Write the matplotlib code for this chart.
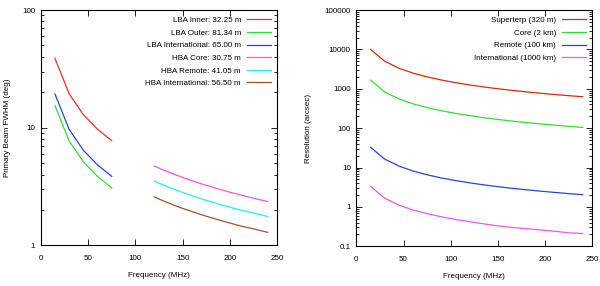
import matplotlib.pyplot as plt
from matplotlib.ticker import LogLocator, MultipleLocator, NullFormatter

plt.rcParams['font.family'] = ['Liberation Sans', 'DejaVu Sans']
plt.rcParams['font.size'] = 5.8

# left panel: primary beam FWHM (deg)
lba_freq = [15, 30, 45, 60, 75]
lba_inner = [38.8, 19.4, 12.9, 9.7, 7.76]
lba_outer = [15.4, 7.7, 5.13, 3.85, 3.08]
lba_intl = [19.3, 9.65, 6.43, 4.83, 3.86]

hba_freq = [120, 130, 140, 150, 160, 170, 180, 190, 200, 210, 220, 230, 240]
hba_core = [4.72, 4.36, 4.05, 3.78, 3.54, 3.33, 3.15, 2.98, 2.83, 2.70, 2.57, 2.46, 2.36]
hba_remote = [3.52, 3.25, 3.02, 2.82, 2.64, 2.48, 2.35, 2.22, 2.11, 2.01, 1.92, 1.84, 1.76]
hba_intl = [2.58, 2.38, 2.21, 2.06, 1.94, 1.82, 1.72, 1.63, 1.55, 1.47, 1.41, 1.35, 1.29]

# right panel: resolution (arcsec)
res_freq = [15, 30, 45, 60, 75, 90, 105, 120, 135, 150, 165, 180, 195, 210, 225, 240]
superterp = [10000, 5000, 3330, 2500, 2000, 1670, 1430, 1250, 1110, 1000, 910, 833, 770, 714, 667, 627]
core = [1660, 830, 553, 415, 332, 277, 237, 208, 184, 166, 151, 138, 128, 119, 111, 104]
remote = [32.6, 16.3, 10.9, 8.15, 6.52, 5.43, 4.66, 4.08, 3.62, 3.26, 2.96, 2.72, 2.51, 2.33, 2.17, 2.04]
international = [3.33, 1.67, 1.11, 0.83, 0.67, 0.56, 0.48, 0.42, 0.37, 0.33, 0.30, 0.28, 0.26, 0.24, 0.22, 0.21]

fig = plt.figure(figsize=(6, 2.86), dpi=100)
ax1 = fig.add_axes([0.068, 0.142, 0.394, 0.823])
ax2 = fig.add_axes([0.594, 0.139, 0.393, 0.826])

lw = 0.9
ax1.plot(lba_freq, lba_inner, color='#e8322a', lw=lw, label='LBA Inner: 32.25 m')
ax1.plot(lba_freq, lba_outer, color='#33dd33', lw=lw, label='LBA Outer: 81.34 m')
ax1.plot(lba_freq, lba_intl, color='#2648d0', lw=lw, label='LBA International: 65.00 m')
ax1.plot(hba_freq, hba_core, color='#ee55ee', lw=lw, label='HBA Core: 30.75 m')
ax1.plot(hba_freq, hba_remote, color='#22eeee', lw=lw, label='HBA Remote: 41.05 m')
ax1.plot(hba_freq, hba_intl, color='#a0522d', lw=lw, label='HBA International: 56.50 m')
ax1.set_ylim(1, 100)
ax1.set_ylabel('Primary Beam FWHM (deg)', labelpad=8)

ax2.plot(res_freq, superterp, color='#d42a10', lw=lw, label='Superterp (320 m)')
ax2.plot(res_freq, core, color='#33dd33', lw=lw, label='Core (2 km)')
ax2.plot(res_freq, remote, color='#2648d0', lw=lw, label='Remote (100 km)')
ax2.plot(res_freq, international, color='#ee55ee', lw=lw, label='International (1000 km)')
ax2.set_ylim(0.1, 100000)
ax2.set_ylabel('Resolution (arcsec)', labelpad=9)

for ax in (ax1, ax2):
    ax.set_yscale('log')
    ax.set_xlim(0, 250)
    ax.xaxis.set_major_locator(MultipleLocator(50))
    ax.yaxis.set_major_locator(LogLocator(base=10))
    ax.yaxis.set_minor_locator(LogLocator(base=10, subs=range(2, 10)))
    ax.yaxis.set_minor_formatter(NullFormatter())
    ax.yaxis.set_major_formatter(plt.FuncFormatter(lambda v, p: f'{v:g}'))
    ax.tick_params(which='both', direction='in', top=True, right=True, width=0.6)
    ax.tick_params(axis='x', pad=7)
    ax.tick_params(axis='y', pad=4)
    ax.tick_params(which='major', length=4)
    ax.tick_params(which='minor', length=2)
    for s in ax.spines.values():
        s.set_linewidth(0.8)
    ax.set_xlabel('Frequency (MHz)', labelpad=7)
    ax.legend(loc='upper right', frameon=False, markerfirst=False, handlelength=3.0,
              handletextpad=0.7, labelspacing=0.62, borderaxespad=0.4)

fig.savefig('out.png', dpi=100)
